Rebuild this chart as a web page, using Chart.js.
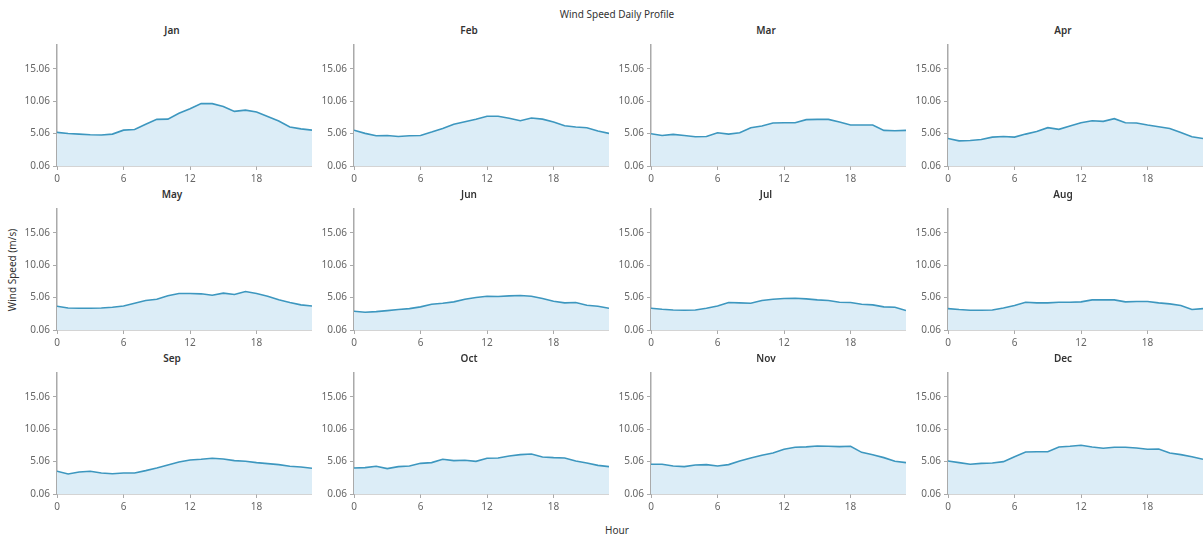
<!DOCTYPE html>
<html>
<head>
<meta charset="utf-8">
<script src="https://cdn.jsdelivr.net/npm/chart.js@4.4.0/dist/chart.umd.min.js"></script>
<style>
  body { margin: 0; background: #fff; }
  #wrap { position: relative; width: 1203px; height: 535px; overflow: hidden; font-family: "Noto Sans", sans-serif; }
  .lbl { position: absolute; transform: translate(-50%, -50%); white-space: nowrap; font-size: 10px; color: #333; }
  .sub { font-weight: 600; }
  canvas { position: absolute; }
</style>
</head>
<body>
<div id="wrap">
  <div class="lbl" style="left:617px; top:14px;">Wind Speed Daily Profile</div>
  <div class="lbl" style="left:617px; top:530px;">Hour</div>
  <div class="lbl" style="left:12px; top:270px; transform: translate(-50%, -50%) rotate(-90deg);">Wind Speed (m/s)</div>
</div>
<script>
const months = ['Jan', 'Feb', 'Mar', 'Apr', 'May', 'Jun', 'Jul', 'Aug', 'Sep', 'Oct', 'Nov', 'Dec'];
const hours = [0, 1, 2, 3, 4, 5, 6, 7, 8, 9, 10, 11, 12, 13, 14, 15, 16, 17, 18, 19, 20, 21, 22, 23];
const xTicks = [0, 6, 12, 18];
const yTicks = [0.06, 5.06, 10.06, 15.06];
const yMin = 0.06;
const yMax = 18.76;

const jan = [5.25, 5.09, 4.99, 4.9, 4.85, 4.99, 5.6, 5.7, 6.5, 7.27, 7.3, 8.2, 8.9, 9.7, 9.7, 9.25, 8.5, 8.7, 8.4, 7.7, 7.0, 6.1, 5.8, 5.6];
const feb = [5.6, 5.1, 4.73, 4.78, 4.63, 4.73, 4.78, 5.3, 5.87, 6.5, 6.9, 7.27, 7.74, 7.74, 7.43, 7.06, 7.48, 7.3, 6.86, 6.29, 6.08, 5.98, 5.46, 5.1];
const mar = [5.04, 4.78, 4.94, 4.78, 4.57, 4.63, 5.2, 4.99, 5.2, 5.98, 6.24, 6.7, 6.75, 6.75, 7.22, 7.27, 7.27, 6.86, 6.39, 6.39, 6.39, 5.56, 5.5, 5.56];
const apr = [4.31, 3.95, 4.0, 4.16, 4.52, 4.63, 4.52, 4.99, 5.4, 5.98, 5.72, 6.24, 6.75, 7.06, 6.96, 7.38, 6.75, 6.7, 6.39, 6.13, 5.87, 5.25, 4.57, 4.31];
const may = [3.73, 3.47, 3.42, 3.42, 3.47, 3.58, 3.78, 4.2, 4.61, 4.82, 5.34, 5.7, 5.7, 5.65, 5.44, 5.75, 5.54, 6.01, 5.7, 5.29, 4.72, 4.3, 3.94, 3.78];
const jun = [2.96, 2.8, 2.9, 3.06, 3.22, 3.37, 3.63, 4.04, 4.2, 4.41, 4.82, 5.08, 5.28, 5.23, 5.34, 5.39, 5.28, 4.92, 4.51, 4.25, 4.3, 3.89, 3.73, 3.42];
const jul = [3.42, 3.27, 3.16, 3.11, 3.16, 3.42, 3.78, 4.3, 4.25, 4.2, 4.61, 4.82, 4.92, 4.97, 4.87, 4.72, 4.61, 4.35, 4.3, 4.04, 3.94, 3.63, 3.58, 3.06];
const aug = [3.37, 3.22, 3.11, 3.11, 3.16, 3.47, 3.84, 4.35, 4.25, 4.25, 4.35, 4.35, 4.41, 4.72, 4.72, 4.72, 4.41, 4.46, 4.46, 4.25, 4.1, 3.84, 3.22, 3.37];
const sep = [3.57, 3.15, 3.46, 3.57, 3.31, 3.2, 3.31, 3.31, 3.67, 4.08, 4.54, 5.0, 5.32, 5.42, 5.58, 5.47, 5.22, 5.11, 4.91, 4.75, 4.6, 4.34, 4.24, 4.03];
const oct = [4.08, 4.13, 4.34, 3.98, 4.29, 4.39, 4.8, 4.91, 5.42, 5.22, 5.27, 5.11, 5.58, 5.63, 5.94, 6.14, 6.25, 5.78, 5.68, 5.63, 5.16, 4.85, 4.49, 4.29];
const nov = [4.65, 4.65, 4.39, 4.29, 4.54, 4.6, 4.39, 4.6, 5.16, 5.63, 6.04, 6.4, 6.97, 7.28, 7.34, 7.48, 7.43, 7.38, 7.43, 6.5, 6.14, 5.68, 5.11, 4.91];
const dec = [5.16, 4.91, 4.65, 4.8, 4.85, 5.06, 5.83, 6.55, 6.6, 6.6, 7.33, 7.43, 7.59, 7.33, 7.12, 7.28, 7.28, 7.17, 6.97, 7.02, 6.4, 6.14, 5.83, 5.42];

const series = [jan, feb, mar, apr, may, jun, jul, aug, sep, oct, nov, dec];

const tickFont = { family: '"Noto Sans", sans-serif', size: 10 };
const wrap = document.getElementById('wrap');
const charts = [];

for (let i = 0; i < months.length; i++) {
    const r = Math.floor(i / 4);
    const c = i % 4;
    const plotLeft = 57 + 297 * c;
    const plotTop = 45 + 164 * r;

    const title = document.createElement('div');
    title.className = 'lbl sub';
    title.style.left = (plotLeft + 115) + 'px';
    title.style.top = (plotTop - 15) + 'px';
    title.textContent = months[i];
    wrap.appendChild(title);

    const cv = document.createElement('canvas');
    cv.width = 312;
    cv.height = 146;
    cv.style.left = (plotLeft - 57) + 'px';
    cv.style.top = (plotTop - 5) + 'px';
    wrap.appendChild(cv);

    charts.push(new Chart(cv.getContext('2d'), {
        type: 'line',
        data: {
            datasets: [{
                label: months[i],
                data: hours.map((h, k) => ({ x: h, y: series[i][k] })),
                borderColor: '#3d97bf',
                backgroundColor: '#dcedf7',
                borderWidth: 1.6,
                fill: 'start',
                pointRadius: 0,
                tension: 0,
            }]
        },
        options: {
            responsive: false,
            animation: false,
            layout: { padding: { top: 5, left: 0, right: 0, bottom: 0 } },
            plugins: {
                legend: { display: false },
                title: { display: false },
                tooltip: { enabled: false }
            },
            scales: {
                x: {
                    type: 'linear',
                    min: 0,
                    max: 23,
                    afterBuildTicks: s => { s.ticks = xTicks.map(v => ({ value: v })); },
                    afterFit: s => { s.height = 20; s.paddingRight = 0; },
                    grid: { drawOnChartArea: false, tickLength: 4, color: '#aaa' },
                    border: { color: '#aaa', width: 1.5 },
                    ticks: { color: '#666', font: tickFont, maxRotation: 0, padding: 3 }
                },
                y: {
                    min: yMin,
                    max: yMax,
                    afterBuildTicks: s => { s.ticks = yTicks.map(v => ({ value: v })); },
                    afterFit: s => { s.width = 57; s.paddingTop = 0; },
                    grid: { drawOnChartArea: false, tickLength: 4, color: '#aaa' },
                    border: { color: '#aaa', width: 1.5 },
                    ticks: { color: '#666', font: tickFont, padding: 3, callback: v => v.toFixed(2) }
                }
            }
        }
    }));
}
</script>
</body>
</html>
